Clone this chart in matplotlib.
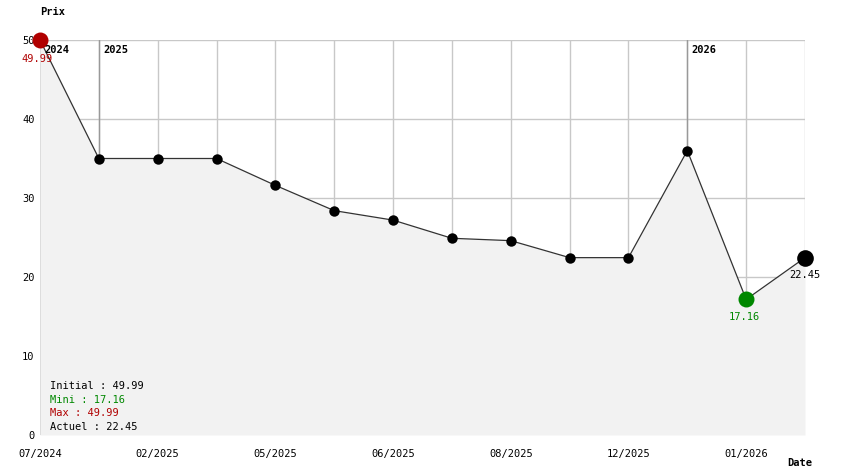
import numpy as np
import matplotlib.pyplot as plt

plt.rcParams['font.family'] = ['DejaVu Sans Mono']

prices = [49.99, 35.0, 35.0, 35.0, 31.6, 28.4, 27.2, 24.9, 24.6, 22.45, 22.45, 36.0, 17.16, 22.45]
tick_labels = ['07/2024', '', '02/2025', '', '05/2025', '', '06/2025', '',
               '08/2025', '', '12/2025', '', '01/2026', '']
years = [(0, '2024'), (1, '2025'), (11, '2026')]

x = np.arange(len(prices))
W, H = 844, 474
fig = plt.figure(figsize=(W / 100, H / 100), dpi=100)
ax = fig.add_axes([40 / W, (H - 435) / H, 765 / W, 395 / H])

ax.set_xlim(0, len(prices) - 1)
ax.set_ylim(0, 50)
for s in ax.spines.values():
    s.set_visible(False)

# grid
for xi in x:
    ax.axvline(xi, color='#c8c8c8', lw=1, zorder=0)
for yv in [10, 20, 30, 40, 50]:
    ax.axhline(yv, color='#c8c8c8', lw=1, zorder=0)

ax.fill_between(x, prices, 0, color='#f2f2f2', zorder=1, lw=0)

# year markers
for xi, lab in years:
    ax.plot([xi, xi], [prices[xi], 50], color='#999999', lw=1, zorder=2)
    ax.annotate(lab, (xi, 50), xytext=(3, -11), textcoords='offset points',
                fontsize=7.5, fontweight='bold', ha='left', va='bottom', zorder=5)

ax.plot(x, prices, color='#333333', lw=0.9, zorder=3)
ax.plot(x[1:-2], prices[1:-2], 'o', color='black', ms=7.5, zorder=4, mec='none')
ax.plot(x[0], prices[0], 'o', color='#b00000', ms=11.5, zorder=4, mec='none', clip_on=False)
ax.plot(x[-2], prices[-2], 'o', color='#008800', ms=11.5, zorder=4, mec='none')
ax.plot(x[-1], prices[-1], 'o', color='black', ms=12, zorder=4, mec='none', clip_on=False)

ax.annotate('49.99', (x[0], prices[0]), xytext=(-2, -10), textcoords='offset points',
            fontsize=7.5, color='#b00000', ha='center', va='top', zorder=5)
ax.annotate('17.16', (x[-2], prices[-2]), xytext=(-1, -9), textcoords='offset points',
            fontsize=7.5, color='#008800', ha='center', va='top', zorder=5)
ax.annotate('22.45', (x[-1], prices[-1]), xytext=(0, -9), textcoords='offset points',
            fontsize=7.5, color='black', ha='center', va='top', zorder=5)

ax.set_xticks(x)
ax.set_xticklabels(tick_labels)
ax.set_yticks([0, 10, 20, 30, 40, 50])
ax.tick_params(length=0, labelsize=7.5, pad=4)
ax.tick_params(axis='x', pad=10)

info = [('Initial : 49.99', 'black'), ('Mini : 17.16', '#008800'),
        ('Max : 49.99', '#b00000'), ('Actuel : 22.45', 'black')]
for i, (t, c) in enumerate(info):
    fig.text(50 / W, 1 - (386 + i * 13.7) / H, t, color=c, fontsize=7.5,
             ha='left', va='center')

fig.text(40 / W, 1 - 12 / H, 'Prix', fontsize=7.5, fontweight='bold', ha='left', va='center')
fig.text(812 / W, 1 - 463 / H, 'Date', fontsize=7.5, fontweight='bold', ha='right', va='center')

fig.savefig('out.png', dpi=100)
